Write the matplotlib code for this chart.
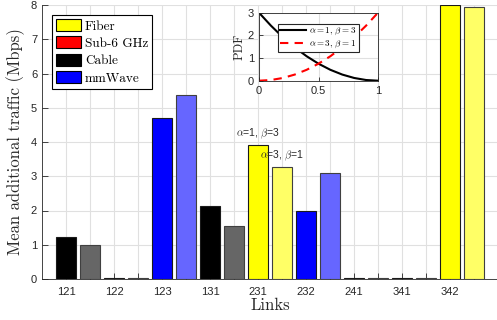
import matplotlib.pyplot as plt
import numpy as np

plt.rcParams['mathtext.fontset'] = 'cm'
plt.rcParams['font.family'] = ['Liberation Sans', 'DejaVu Sans']

# Data
links = ['121', '122', '123', '131', '231', '232', '241', '341', '342']
link_tech = ['Cable', 'Sub-6 GHz', 'mmWave', 'Cable', 'Fiber', 'mmWave',
             'Sub-6 GHz', 'Sub-6 GHz', 'Fiber']
traffic_a1b3 = [1.23, 0.02, 4.69, 2.13, 3.91, 1.99, 0.02, 0.02, 8.0]
traffic_a3b1 = [0.98, 0.02, 5.38, 1.56, 3.26, 3.10, 0.02, 0.02, 7.93]

tech_names = ['Fiber', 'Sub-6 GHz', 'Cable', 'mmWave']
tech_colors = {'Fiber': '#ffff00', 'Sub-6 GHz': '#ff0000',
               'Cable': '#000000', 'mmWave': '#0000ff'}
tech_light = {'Fiber': '#ffff66', 'Sub-6 GHz': '#ff6666',
              'Cable': '#666666', 'mmWave': '#6666ff'}

# inset: beta pdfs
pdf_x = [0.0, 0.1, 0.2, 0.3, 0.4, 0.5, 0.6, 0.7, 0.8, 0.9, 1.0]
pdf_a1b3 = [3.0, 2.43, 1.92, 1.47, 1.08, 0.75, 0.48, 0.27, 0.12, 0.03, 0.0]
pdf_a3b1 = [0.0, 0.03, 0.12, 0.27, 0.48, 0.75, 1.08, 1.47, 1.92, 2.43, 3.0]

fig = plt.figure(figsize=(4.97, 3.2), dpi=100)
ax = fig.add_axes([42 / 497, 41 / 320, 456 / 497, 274 / 320])

pos1 = np.arange(len(links)) * 2
pos2 = pos1 + 1
ax.bar(pos1, traffic_a1b3, width=0.8,
       color=[tech_colors[t] for t in link_tech], edgecolor='#1a1a1a', linewidth=0.8, zorder=3)
ax.bar(pos2, traffic_a3b1, width=0.8,
       color=[tech_light[t] for t in link_tech], edgecolor='#404040', linewidth=0.8, zorder=3)

# annotations over link 231
ax.text(pos1[4], traffic_a1b3[4] + 0.12, r'$\alpha$=1, $\beta$=3', ha='center', va='bottom',
        fontsize=7.5, color='#262626')
ax.text(pos2[4], traffic_a3b1[4] + 0.12, r'$\alpha$=3, $\beta$=1', ha='center', va='bottom',
        fontsize=7.5, color='#262626')

ax.set_xlim(-1, 18)
ax.set_ylim(0, 8)
ax.set_xticks(np.arange(18))
ax.set_xticklabels([links[i // 2] if i % 2 == 0 else '' for i in range(18)])
ax.set_yticks(range(9))
ax.tick_params(direction='in', length=4, labelsize=8, colors='#262626', width=0.6)
ax.tick_params(axis='x', pad=6)
ax.grid(True, color='#e0e0e0', linewidth=0.8)
ax.set_axisbelow(True)
for s in ['top', 'right']:
    ax.spines[s].set_visible(False)
for s in ['left', 'bottom']:
    ax.spines[s].set_color('#262626')
    ax.spines[s].set_linewidth(0.6)

ax.set_ylabel('Mean additional traffic (Mbps)', fontfamily='cmr10', fontsize=12, color='#262626')
ax.set_xlabel('Links', fontfamily='cmr10', fontsize=12, color='#262626', labelpad=0)

handles = [plt.Rectangle((0, 0), 1, 1, facecolor=tech_colors[t], edgecolor='black', linewidth=0.8)
           for t in tech_names]
leg = ax.legend(handles, tech_names, loc='upper left', bbox_to_anchor=(0.022, 0.963),
                borderaxespad=0, fancybox=False, edgecolor='black', framealpha=1,
                prop={'family': 'cmr10', 'size': 9.5}, handlelength=1.9, handleheight=1.0,
                handletextpad=0.3, labelspacing=0.3, borderpad=0.3)
leg.get_frame().set_linewidth(0.8)

# inset
ins = fig.add_axes([259 / 497, (320 - 80.7) / 320, 119 / 497, 68 / 320])
ins.plot(pdf_x, pdf_a1b3, color='black', linewidth=1.5, label=r'$\alpha = 1,\, \beta = 3$')
ins.plot(pdf_x, pdf_a3b1, color='red', linewidth=1.5, linestyle=(0, (4, 3)),
         label=r'$\alpha = 3,\, \beta = 1$')
ins.set_xlim(0, 1)
ins.set_ylim(0, 3)
ins.set_xticks([0, 0.5, 1])
ins.set_xticklabels(['0', '0.5', '1'])
ins.set_yticks([0, 1, 2, 3])
ins.tick_params(direction='in', length=3, labelsize=8, colors='#262626', width=0.6)
ins.grid(True, color='#e0e0e0', linewidth=0.8)
for s in ins.spines.values():
    s.set_color('#262626')
    s.set_linewidth(0.6)
ins.set_ylabel('PDF', fontfamily='cmr10', fontsize=9, color='#262626', labelpad=2)
ileg = ins.legend(loc='upper left', bbox_to_anchor=(0.16, 0.834), borderaxespad=0,
                  fancybox=False, edgecolor='#262626', framealpha=1, fontsize=6.5,
                  handlelength=2.8, handletextpad=0.4, labelspacing=0.15, borderpad=0.25)
ileg.get_frame().set_linewidth(0.8)

fig.savefig('out.png', dpi=100)
